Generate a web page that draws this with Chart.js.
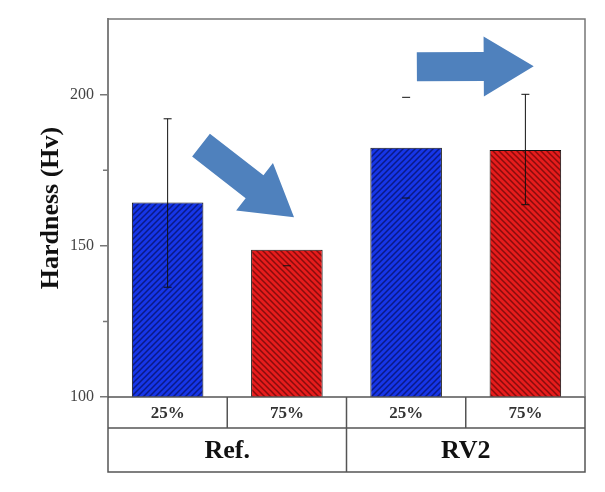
<!DOCTYPE html>
<html>
<head>
<meta charset="utf-8">
<script src="https://cdn.jsdelivr.net/npm/chart.js@4.4.0/dist/chart.umd.min.js"></script>
<style>
  html, body { margin: 0; padding: 0; background: #fff; }
  .wrap { width: 605px; height: 492px; position: relative; }
</style>
</head>
<body>
<div class="wrap"><canvas id="chart"></canvas></div>
<script>
// data
const subLabels = ['25%', '75%', '25%', '75%'];
const groupLabels = ['Ref.', 'RV2'];
const hardness = [164.3, 148.7, 182.4, 181.7];
const errPlus = [27.7, 0, 16.7, 18.4];
const errMinus = [28.0, 5.3, 16.6, 18.1];
const errStem = [true, false, false, true];

// annotation arrows, in data units (category index, Hv)
const arrows = [
  { from: [0.28, 183.3], to: [1.06, 159.4] },
  { from: [2.09, 209.2], to: [3.07, 209.4] }
];

const SERIF = "'Liberation Serif', 'Times New Roman', serif";
const canvas = document.getElementById('chart');
const ctx = canvas.getContext('2d');

function hatch(bg, line, dir) {
  const s = 6;
  const c = document.createElement('canvas');
  c.width = c.height = s;
  const g = c.getContext('2d');
  g.fillStyle = bg;
  g.fillRect(0, 0, s, s);
  g.strokeStyle = line;
  g.lineWidth = 1.5;
  g.beginPath();
  if (dir > 0) {
    g.moveTo(0, s); g.lineTo(s, 0);
    g.moveTo(-s / 2, s / 2); g.lineTo(s / 2, -s / 2);
    g.moveTo(s / 2, s * 1.5); g.lineTo(s * 1.5, s / 2);
  } else {
    g.moveTo(0, 0); g.lineTo(s, s);
    g.moveTo(-s / 2, s / 2); g.lineTo(s / 2, s * 1.5);
    g.moveTo(s / 2, -s / 2); g.lineTo(s * 1.5, s / 2);
  }
  g.stroke();
  return ctx.createPattern(c, 'repeat');
}

const blue = hatch('#1636e8', '#0a1a86', 1);
const red = hatch('#e61c1c', '#880c0c', -1);
const fills = subLabels.map((l, i) => (i % 2 === 0 ? blue : red));

const tablePlugin = {
  id: 'table',
  afterDraw(chart) {
    const { ctx, chartArea: a, scales: { x, y } } = chart;
    const half = (x.getPixelForValue(1) - x.getPixelForValue(0)) / 2;
    const y0 = a.bottom, y1 = y0 + 31, y2 = y1 + 44;
    ctx.save();
    ctx.strokeStyle = '#555';
    ctx.lineWidth = 1.5;
    ctx.strokeRect(a.left, y0, a.right - a.left, y2 - y0);
    ctx.beginPath();
    ctx.moveTo(a.left, y1);
    ctx.lineTo(a.right, y1);
    subLabels.forEach((lab, i) => {
      if (i === 0) return;
      const bx = x.getPixelForValue(i) - half;
      ctx.moveTo(bx, y0);
      ctx.lineTo(bx, i % 2 === 0 ? y2 : y1);
    });
    ctx.stroke();

    ctx.textAlign = 'center';
    ctx.textBaseline = 'middle';
    ctx.fillStyle = '#333';
    ctx.font = 'bold 17px ' + SERIF;
    subLabels.forEach((lab, i) => {
      ctx.fillText(lab, x.getPixelForValue(i), (y0 + y1) / 2 + 1);
    });
    ctx.fillStyle = '#111';
    ctx.font = 'bold 26px ' + SERIF;
    groupLabels.forEach((g, j) => {
      const cx = (x.getPixelForValue(2 * j) + x.getPixelForValue(2 * j + 1)) / 2;
      ctx.fillText(g, cx, (y1 + y2) / 2 + 1);
    });

    // top and right frame of the plot
    ctx.strokeStyle = '#777';
    ctx.beginPath();
    ctx.moveTo(a.left, a.top);
    ctx.lineTo(a.right, a.top);
    ctx.lineTo(a.right, a.bottom);
    ctx.stroke();

    // minor ticks, shorter than the major ones
    ctx.lineWidth = 1.5;
    ctx.beginPath();
    y.ticks.forEach(t => {
      if (t.value % 50 === 0 || t.value >= y.max) return;
      const py = y.getPixelForValue(t.value);
      ctx.moveTo(a.left - 5, py);
      ctx.lineTo(a.left, py);
    });
    ctx.stroke();
    ctx.restore();
  }
};

const errorPlugin = {
  id: 'errorBars',
  afterDatasetsDraw(chart) {
    const { ctx, scales: { y } } = chart;
    const bars = chart.getDatasetMeta(0).data;
    ctx.save();
    ctx.strokeStyle = '#111';
    ctx.lineWidth = 1;
    bars.forEach((bar, i) => {
      const top = y.getPixelForValue(hardness[i] + errPlus[i]);
      const bot = y.getPixelForValue(hardness[i] - errMinus[i]);
      ctx.beginPath();
      if (errStem[i]) {
        ctx.moveTo(bar.x, top);
        ctx.lineTo(bar.x, bot);
      }
      if (errPlus[i] > 0) { ctx.moveTo(bar.x - 4, top); ctx.lineTo(bar.x + 4, top); }
      if (errMinus[i] > 0) { ctx.moveTo(bar.x - 4, bot); ctx.lineTo(bar.x + 4, bot); }
      ctx.stroke();
    });
    ctx.restore();
  }
};

const arrowPlugin = {
  id: 'arrows',
  afterDraw(chart) {
    const { ctx, scales: { x, y } } = chart;
    const bw = 29, hw = 60, hl = 50;
    ctx.save();
    ctx.fillStyle = '#4f81bd';
    arrows.forEach(ar => {
      const x0 = x.getPixelForValue(ar.from[0]), y0 = y.getPixelForValue(ar.from[1]);
      const x1 = x.getPixelForValue(ar.to[0]), y1 = y.getPixelForValue(ar.to[1]);
      const len = Math.hypot(x1 - x0, y1 - y0);
      ctx.save();
      ctx.translate(x0, y0);
      ctx.rotate(Math.atan2(y1 - y0, x1 - x0));
      ctx.beginPath();
      ctx.moveTo(0, -bw / 2);
      ctx.lineTo(len - hl, -bw / 2);
      ctx.lineTo(len - hl, -hw / 2);
      ctx.lineTo(len, 0);
      ctx.lineTo(len - hl, hw / 2);
      ctx.lineTo(len - hl, bw / 2);
      ctx.lineTo(0, bw / 2);
      ctx.closePath();
      ctx.fill();
      ctx.restore();
    });
    ctx.restore();
  }
};

new Chart(canvas, {
  type: 'bar',
  data: {
    labels: subLabels,
    datasets: [{
      data: hardness,
      backgroundColor: fills,
      borderColor: '#111',
      borderWidth: 1,
      categoryPercentage: 1,
      barPercentage: 0.6
    }]
  },
  options: {
    responsive: true,
    maintainAspectRatio: false,
    animation: false,
    layout: { padding: { left: 0, right: 20, top: 19, bottom: 95 } },
    plugins: { legend: { display: false }, tooltip: { enabled: false } },
    scales: {
      x: { display: false, offset: true },
      y: {
        min: 100,
        max: 225,
        afterFit(s) { s.width = 108; s.paddingTop = 0; s.paddingBottom = 0; },
        border: { color: '#808080', width: 2 },
        grid: {
          drawOnChartArea: false,
          tickLength: 8,
          lineWidth: 1.5,
          color: c => (c.tick && c.tick.value % 50 === 0 && c.tick.value < 225 ? '#777' : 'rgba(0,0,0,0)')
        },
        ticks: {
          stepSize: 25,
          padding: 6,
          color: '#444',
          font: { family: SERIF, size: 16 },
          callback: v => (v % 50 === 0 && v < 225 ? v : '')
        },
        title: {
          display: true,
          text: 'Hardness (Hv)',
          color: '#111',
          font: { family: SERIF, size: 26, weight: 'bold' },
          padding: { top: 36, bottom: 0 }
        }
      }
    }
  },
  plugins: [errorPlugin, tablePlugin, arrowPlugin]
});
</script>
</body>
</html>
